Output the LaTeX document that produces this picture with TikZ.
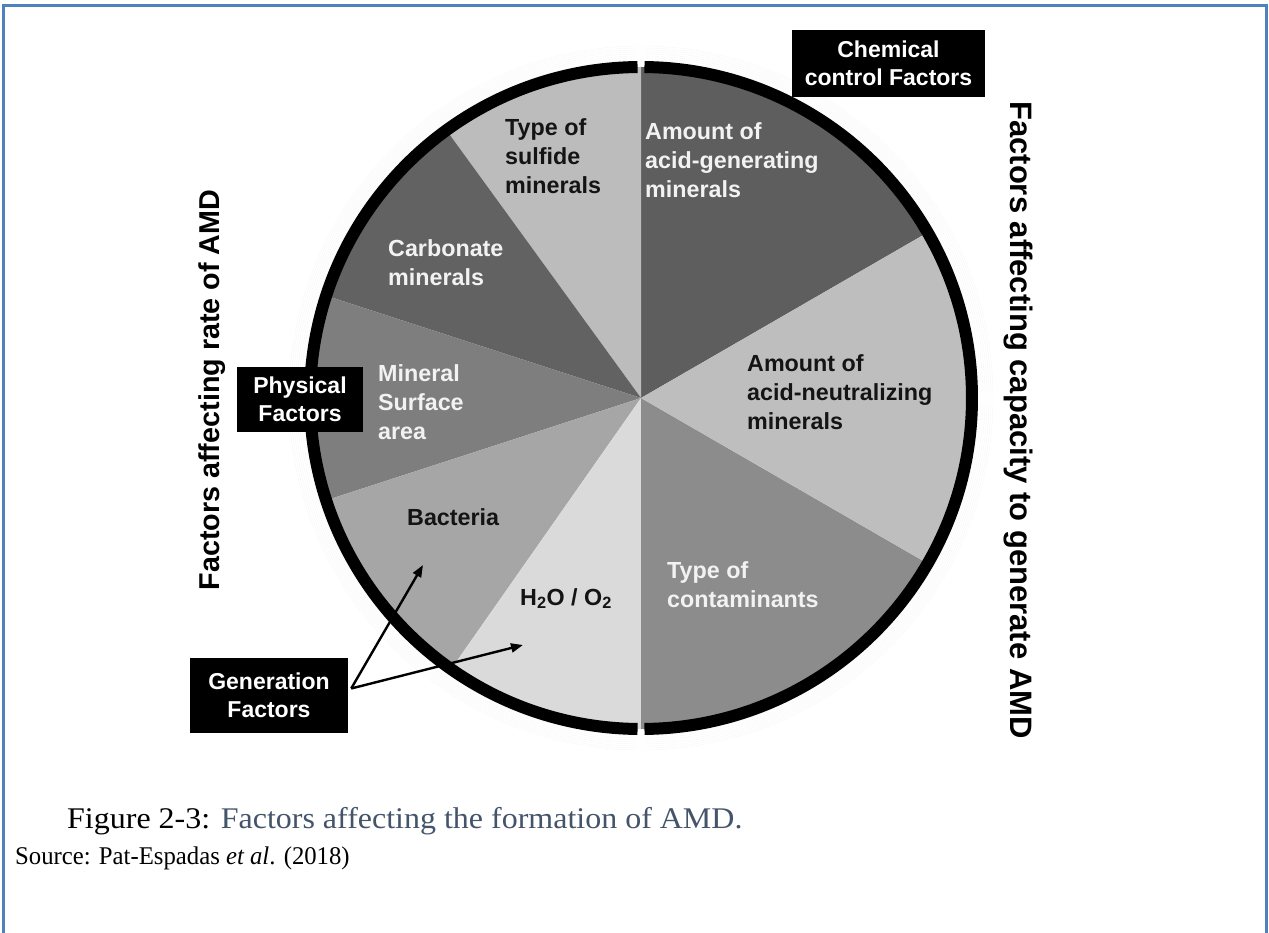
\documentclass[tikz,border=0pt]{standalone}
\usepackage{fontspec}
\setmainfont{Liberation Serif}
\setsansfont{Liberation Sans}
\usetikzlibrary{arrows.meta}

\definecolor{frameblue}{RGB}{79,129,189}
\definecolor{captionblue}{RGB}{68,84,106}
\definecolor{gA}{RGB}{94,94,94}    % acid-generating
\definecolor{gB}{RGB}{188,188,188} % sulfide
\definecolor{gC}{RGB}{98,98,98}    % carbonate
\definecolor{gD}{RGB}{126,126,126} % mineral surface
\definecolor{gE}{RGB}{166,166,166} % bacteria
\definecolor{gF}{RGB}{218,218,218} % water / oxygen
\definecolor{gG}{RGB}{140,140,140} % contaminants
\definecolor{gH}{RGB}{190,190,190} % acid-neutralizing

\tikzset{
  lbl/.style={font=\sffamily\bfseries\fontsize{23.3}{29}\selectfont, align=left,
              anchor=north west, inner sep=0pt},
  wlbl/.style={lbl, text=white!95!black},
  blbl/.style={lbl, text=black!92},
  tagbox/.style={fill=black, text=white, align=center, inner sep=0pt,
                 font=\sffamily\bfseries\fontsize{23}{28}\selectfont},
  ring/.style={line width=12pt, black},
  pointer/.style={line width=2.4pt, -{Triangle[length=12pt, width=9pt]}},
  sidetitle/.style={font=\sffamily\bfseries, text=black, inner sep=0pt},
  captext/.style={anchor=base west, inner sep=0pt},
}

\begin{document}
\begin{tikzpicture}[x=1pt, y=-1pt]
\useasboundingbox (0,0) rectangle (1269,933);
\fill[white] (0,0) rectangle (1269,933);

% page frame
\draw[frameblue, line width=3pt] (3,945) -- (3,6) -- (1266,6) -- (1266,945);

\coordinate (c) at (641,398);
\def\R{331}

% soft halo round the disc
\foreach \k in {1,...,8}
  \draw[black, opacity=0.035] (c) circle[radius=336+2*\k];

% pie slices (visual angle a to b, counter-clockwise)
\foreach \a/\b/\col in {30/90/gA, 90/126/gB, 126/162/gC, 162/198/gD,
                        198/235/gE, 235/270/gF, 270/330/gG, 330/390/gH}
  \fill[\col] (c) -- ++(-\a:\R) arc[start angle=-\a, end angle=-\b, radius=\R] -- cycle;

% outer ring in two halves
\draw[ring] (c) ++(-90.6:331) arc[start angle=-90.6, end angle=-269.4, radius=331];
\draw[ring] (c) ++(89.4:331) arc[start angle=89.4, end angle=-89.4, radius=331];

% slice labels
\node[wlbl] (agen) at (645,122) {Amount of\\acid-generating\\minerals};
\node[blbl] (sulf) at (505,118) {Type of\\sulfide\\minerals};
\node[wlbl] (carb) at (388,239) {Carbonate\\minerals};
\node[wlbl] (msurf) at (378,364) {Mineral\\Surface\\area};
\node[blbl] (bact) at (407,508) {Bacteria};
\node[blbl] (water) at (520,588) {H\textsubscript{2}O / O\textsubscript{2}};
\node[wlbl] (contam) at (667,561) {Type of\\contaminants};
\node[blbl] (aneut) at (747,354) {Amount of\\acid-neutralizing\\minerals};

% category tags
\node[tagbox, minimum width=193pt, minimum height=67pt] (chem) at (888.5,63.5) {Chemical\\control Factors};
\node[tagbox, minimum width=126pt, minimum height=65pt] (phys) at (300,399.5) {Physical\\Factors};
\node[tagbox, minimum width=158pt, minimum height=75pt] (gen) at (269,695.5) {Generation\\Factors};

% generation arrows
\coordinate (tipB) at (423,565);
\coordinate (tipW) at (523,645);
\draw[pointer] ([xshift=3pt, yshift=7pt]gen.east) -- (tipB);
\draw[pointer] ([xshift=3pt, yshift=7pt]gen.east) -- (tipW);

% side titles
\node[sidetitle, rotate=90, font=\sffamily\bfseries\fontsize{28.7}{30}\selectfont] (rate) at (212,390)
  {Factors affecting rate of AMD};
\node[sidetitle, rotate=-90, font=\sffamily\bfseries\fontsize{31}{32}\selectfont] (cap) at (1018,420)
  {Factors affecting capacity to generate AMD};

% caption
\node[captext, xscale=1.066, font=\fontsize{30}{34}\selectfont] (fig) at (67,828)
  {Figure 2-3: \textcolor{captionblue}{Factors affecting the formation of AMD.}};
\node[captext, xscale=0.97, font=\fontsize{25.5}{29}\selectfont] (src) at (15,864)
  {Source: Pat-Espadas \textit{et al}. (2018)};
\end{tikzpicture}
\end{document}
